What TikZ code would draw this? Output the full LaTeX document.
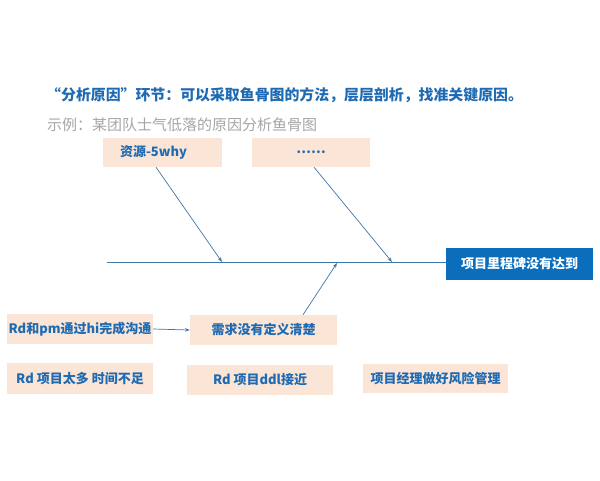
\documentclass[tikz,border=0pt]{standalone}
\usepackage{fontspec}
\setmainfont{Noto Sans CJK SC}
\usetikzlibrary{arrows.meta}
\definecolor{tblue}{HTML}{1F6BB3}
\definecolor{peach}{HTML}{FBE5D6}
\definecolor{headblue}{HTML}{0A6EBD}
\definecolor{lineblue}{HTML}{3F77A8}
\definecolor{subgray}{HTML}{A6A6A6}
\begin{document}
\begin{tikzpicture}[x=1pt,y=-1pt,
  box/.style={fill=peach, draw=none, inner sep=0pt, font=\fontsize{13}{15}\selectfont\bfseries, text=tblue},
  lbl/.style={inner sep=0pt, font=\fontsize{13}{15}\selectfont\bfseries, text=tblue},
  headbox/.style={fill=headblue, draw=none, inner sep=0pt, font=\fontsize{13}{15}\selectfont\bfseries, text=white},
  spine/.style={draw=lineblue, line width=0.8pt},
  conn/.style={draw=lineblue, line width=0.7pt, -{Stealth[length=5pt,width=3.5pt]}},
]
\useasboundingbox[fill=white] (0,0) rectangle (600,480);
% headings
\node[anchor=west, inner sep=0pt, font=\fontsize{14.9}{17}\selectfont\bfseries, text=tblue] (title) at (46,95)
  {“分析原因”环节：可以采取鱼骨图的方法，层层剖析，找准关键原因。};
\node[anchor=west, inner sep=0pt, font=\fontsize{15}{17}\selectfont, text=subgray] (sub) at (47,125)
  {示例：某团队士气低落的原因分析鱼骨图};
% top cause boxes
\node[box, minimum width=119pt, minimum height=29pt] (b1) at (162.5,152.5) {};
\node[lbl, anchor=west] (b1t) at ([xshift=17pt]b1.west) {资源-5why};
\node[box, minimum width=118pt, minimum height=29pt] (b2) at (311,152.5) {……};
% head
\node[headbox, minimum width=147pt, minimum height=32pt] (head) at (519.5,264) {项目里程碑没有达到};
% spine
\coordinate (tail) at (107,262);
\draw[spine] (tail) -- (tail -| head.west);
\coordinate (p1) at (222,262);
\coordinate (p2) at (392,262);
\coordinate (p3) at (337,263);
% lower boxes
\node[box, minimum width=146pt, minimum height=30pt] (b3) at (80,329) {Rd和pm通过hi完成沟通};
\node[box, minimum width=147pt, minimum height=30pt] (b4) at (263.5,330) {需求没有定义清楚};
\node[box, minimum width=146pt, minimum height=31pt] (b5) at (80,378.5) {Rd 项目太多 时间不足};
\node[box, minimum width=146pt, minimum height=30pt] (b6) at (260,380) {Rd 项目ddl接近};
\node[box, minimum width=145pt, minimum height=29pt] (b7) at (435.5,378.5) {项目经理做好风险管理};
% connectors
\draw[conn] ([xshift=-6.5pt]b1.south) -- (p1);
\draw[conn] ([xshift=3pt]b2.south) -- (p2);
\draw[conn] ([xshift=39.5pt]b4.north) -- (p3);
\draw[conn] (b3.east) -- (b4.west);
\end{tikzpicture}
\end{document}
